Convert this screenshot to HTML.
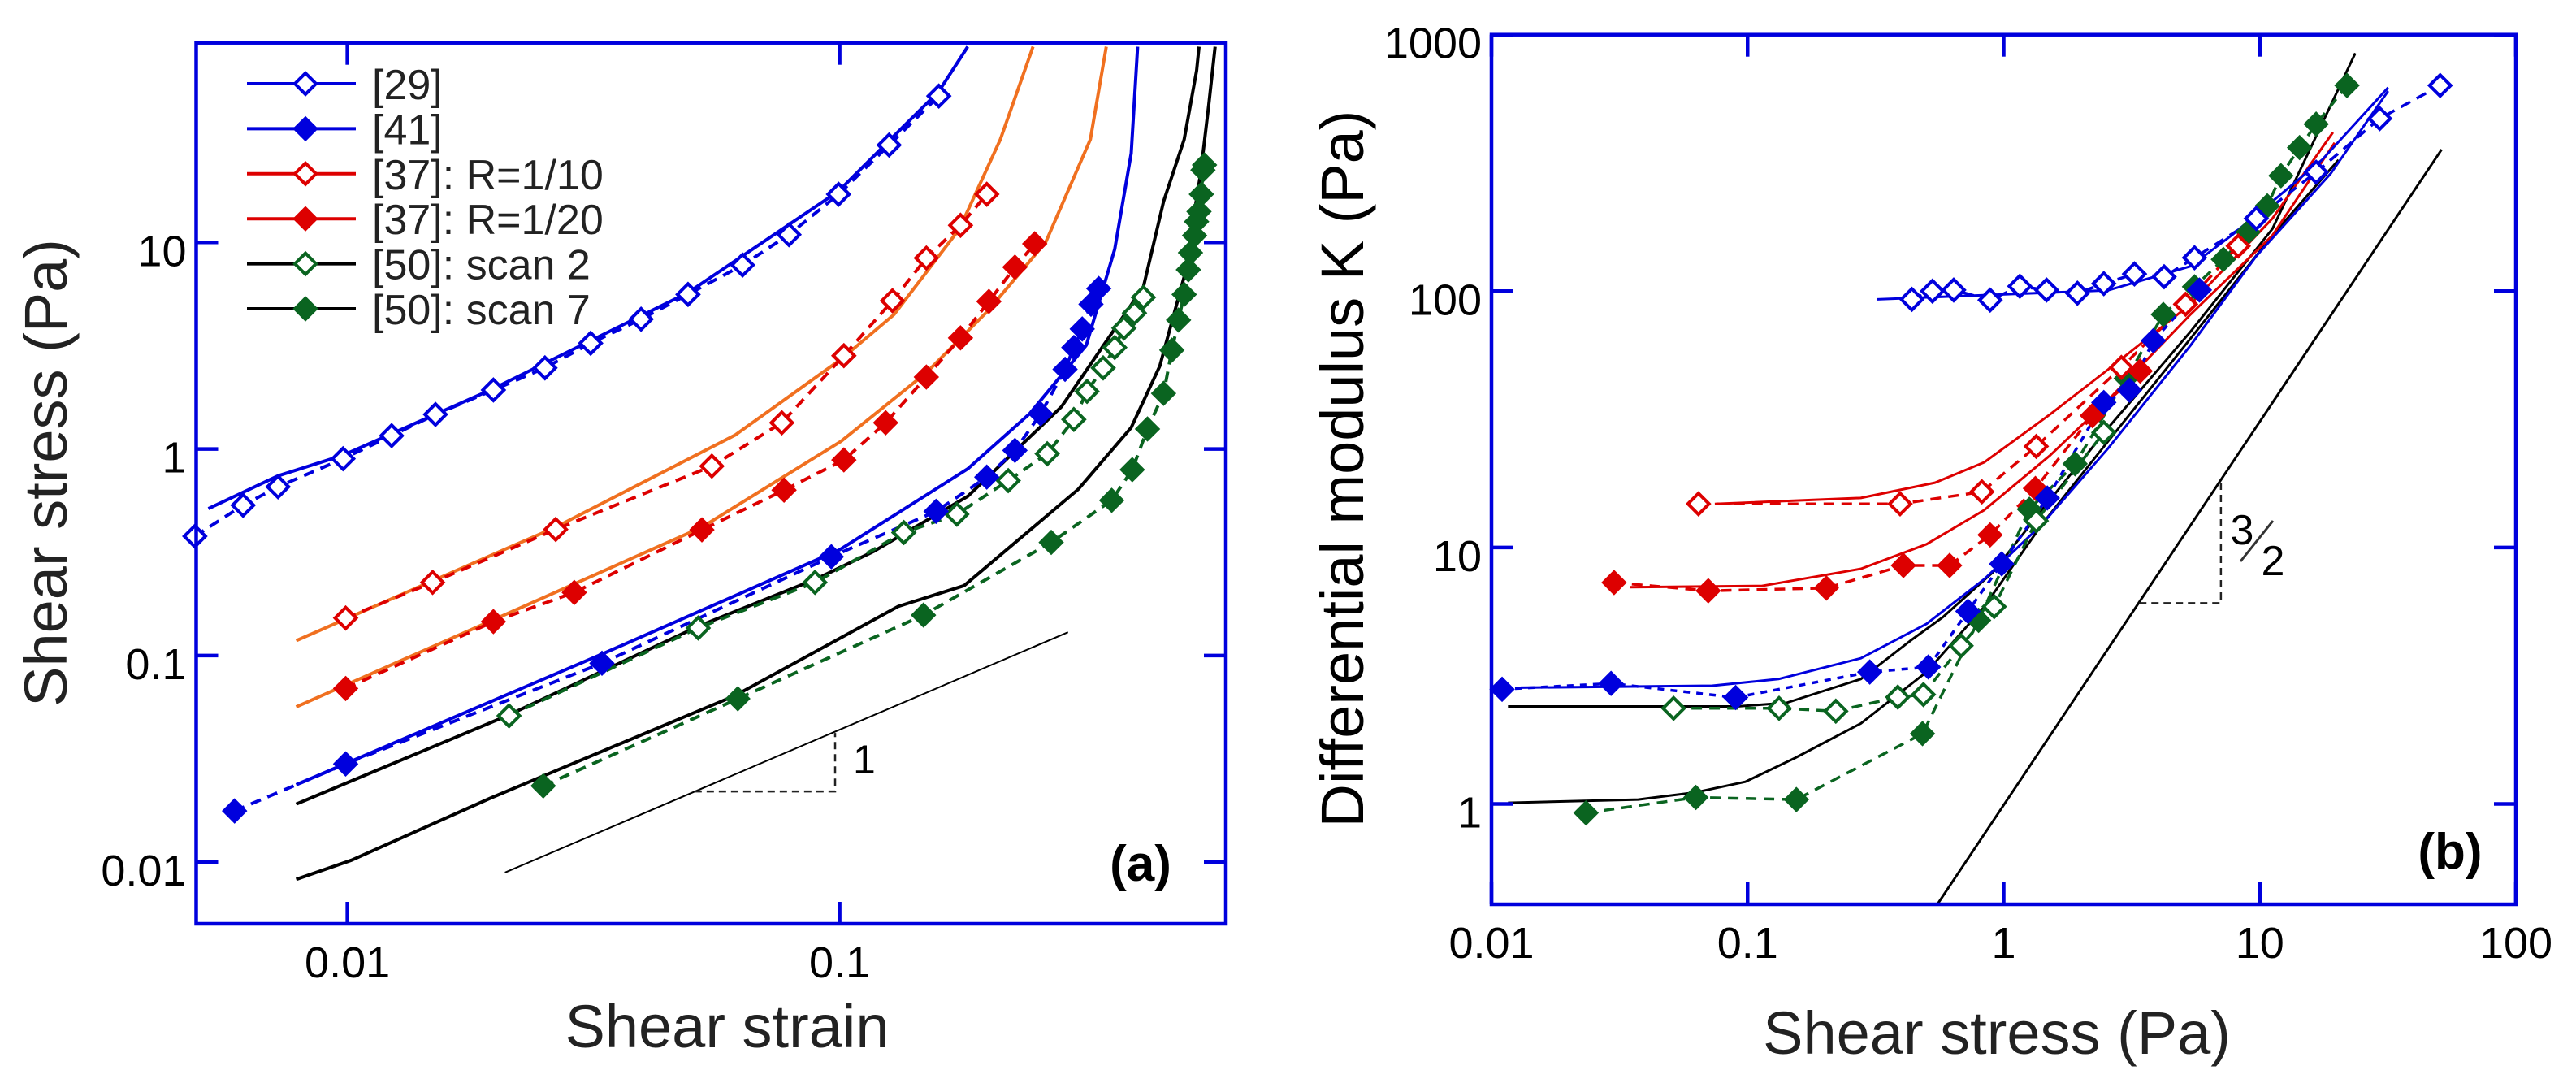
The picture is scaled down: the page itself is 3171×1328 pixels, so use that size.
<!DOCTYPE html>
<html><head><meta charset="utf-8"><style>
html,body{margin:0;padding:0;background:#fff;}
svg{display:block;font-family:"Liberation Sans",Arial,sans-serif;}
</style></head><body>
<svg id="fig" xmlns="http://www.w3.org/2000/svg" width="3171" height="1328" viewBox="0 0 3171 1328">
<defs>
<clipPath id="clipA"><rect x="241.5" y="52.7" width="1267.5" height="1084.3"/></clipPath>
<clipPath id="clipB"><rect x="1836" y="42.7" width="1261" height="1070.3"/></clipPath>
</defs>
<g id="panelA"></g>
<g id="panelB"></g>
</svg>
<script>
// ===== Panel (a) data: shear strain vs shear stress =====
const a29x=[0.0049,0.00614,0.00723,0.0098,0.0123,0.0151,0.0198,0.0252,0.0312,0.0395,0.0492,0.0635,0.0789,0.0995,0.126,0.159];
const a29y=[0.378,0.534,0.656,0.897,1.16,1.47,1.93,2.47,3.25,4.25,5.60,7.77,10.9,17.1,29.6,51.1];
const a29Lx=[0.00522,0.00723,0.0098,0.0198,0.0492,0.0995,0.131,0.159,0.182];
const a29Ly=[0.514,0.741,0.933,1.96,5.71,17.7,34.0,53.8,88.5];
const a41x=[0.0059,0.00992,0.0329,0.0962,0.157,0.199,0.227,0.256,0.287,0.299,0.311,0.324,0.336];
const a41y=[0.0177,0.0299,0.0918,0.301,0.499,0.731,0.984,1.48,2.43,3.10,3.81,5.02,5.98];
const a41Lx=[0.00787,0.0329,0.1,0.182,0.243,0.317,0.362,0.391,0.403];
const a41Ly=[0.0237,0.1016,0.325,0.801,1.48,3.18,9.27,27.0,88.5];
const a10x=[0.00992,0.0149,0.0265,0.0550,0.0763,0.102,0.128,0.150,0.176,0.199];
const a10y=[0.152,0.226,0.408,0.826,1.34,2.83,5.22,8.40,12.1,17.1];
const a10Lx=[0.00787,0.0149,0.0265,0.0614,0.1007,0.129,0.175,0.212,0.247];
const a10Ly=[0.118,0.230,0.418,1.17,2.72,4.48,11.6,31.5,88.5];
const a20x=[0.00992,0.0198,0.0289,0.0525,0.0771,0.102,0.124,0.150,0.176,0.201,0.227,0.249];
const a20y=[0.0693,0.146,0.202,0.406,0.632,0.885,1.34,2.23,3.45,5.18,7.59,9.85];
const a20Lx=[0.00787,0.00992,0.0198,0.0525,0.1007,0.150,0.200,0.262,0.323,0.348];
const a20Ly=[0.0564,0.0720,0.149,0.418,1.09,2.34,4.66,10,31.5,88.5];
const aS2x=[0.0213,0.0516,0.0891,0.135,0.173,0.220,0.264,0.299,0.318,0.343,0.362,0.378,0.397,0.414];
const aS2y=[0.0511,0.136,0.226,0.394,0.483,0.703,0.948,1.39,1.90,2.47,3.10,3.85,4.55,5.42];
const aS2Lx=[0.00787,0.0211,0.0516,0.090,0.1175,0.182,0.282,0.414,0.455,0.501,0.531,0.537];
const aS2Ly=[0.0191,0.0511,0.1385,0.236,0.320,0.590,1.60,6.08,15.8,31.5,67.8,88.5];
const aS7x=[0.0250,0.0621,0.148,0.269,0.357,0.393,0.422,0.455,0.473,0.488,0.501,0.511,0.516,0.526,0.531,0.537,0.543,0.547,0.551];
const aS7y=[0.0234,0.0618,0.157,0.353,0.564,0.794,1.25,1.86,3.01,4.21,5.60,7.37,8.91,10.8,12.6,14.1,17.1,22.4,23.7];
const aS7Lx=[0.00787,0.0102,0.0195,0.0614,0.1315,0.179,0.305,0.391,0.447,0.501,0.541,0.562,0.579];
const aS7Ly=[0.00826,0.01023,0.0204,0.0641,0.173,0.218,0.637,1.27,2.52,6.82,21.5,46.1,88.5];
const aSlopeX=[0.0209,0.291];
const aSlopeY=[0.00891,0.1297];
const aTicksX=[0.01,0.1];
const aTickLabelsX=["0.01","0.1"];
const aTicksY=[0.01,0.1,1,10];
const aTickLabelsY=["0.01","0.1","1","10"];

// ===== Panel (b) data: shear stress vs differential modulus =====
const b29x=[0.438,0.527,0.638,0.885,1.156,1.47,1.94,2.46,3.24,4.23,5.56,9.69,16.6,29.4,50.6];
const b29y=[92.9,100,101,92.3,104.5,101,98.2,107,116.7,113.8,135,192,291,471,634];
const b29Lx=[0.321,2.55,5.36,7.76,11.2,17.5,31.7];
const b29Ly=[92.9,100.7,125,165,224,325,622];
const b41x=[0.0110,0.0293,0.0898,0.300,0.508,0.725,0.982,1.48,2.46,3.10,3.84,5.81];
const b41y=[2.80,2.95,2.60,3.27,3.42,5.64,8.63,15.6,36.8,41.1,64.1,101];
const b41Lx=[0.0130,0.0728,0.132,0.277,0.500,0.840,1.41,2.55,5.36,9.69,18.9,31.7];
const b41Ly=[2.84,2.89,3.07,3.70,5.04,7.53,12.3,24.3,61.4,137,287,603];
const b10x=[0.0643,0.394,0.822,1.34,2.88,5.13,8.24];
const b10y=[14.8,14.8,16.5,24.8,50.4,88.9,150];
const b10Lx=[0.0745,0.277,0.539,0.840,1.52,2.55,5.36,11.2,19.3];
const b10Ly=[14.8,15.6,17.9,21.5,33.1,49.4,88.9,192,416];
const b20x=[0.0301,0.0702,0.203,0.406,0.615,0.885,1.33,2.22,3.41];
const b20y=[7.30,6.78,6.95,8.51,8.51,11.2,17.0,32.7,48.8];
const b20Lx=[0.0348,0.1135,0.277,0.500,0.840,1.52,2.55,5.36,11.2,19.6];
const b20Ly=[7.00,7.08,8.26,10.3,14.0,22.9,37.5,81.1,165,379];
const bS2x=[0.0514,0.1327,0.221,0.386,0.486,0.682,0.918,1.34,2.46];
const bS2y=[2.36,2.36,2.30,2.61,2.67,4.14,5.88,12.7,28.1];
const bS2Lx=[0.0116,0.0910,0.142,0.277,0.431,0.580,0.906,1.41,2.55,5.36,11.2,23.6];
const bS2Ly=[2.40,2.40,2.48,3.07,4.32,5.36,8.00,14.0,29.2,69.5,175,847];
const bS7x=[0.0234,0.0628,0.155,0.482,0.798,1.26,1.90,3.01,4.20,5.56,7.21,9.00,10.7,12.1,14.3,16.6,21.9];
const bS7y=[0.923,1.06,1.04,1.88,5.20,14.1,21.2,45.7,81.1,104,133,170,215,282,363,448,634];
const bS7Lx=[0.0116,0.0374,0.0628,0.098,0.153,0.277,0.500,0.840,1.41,2.55,5.36,11.2,20.3];
const bS7Ly=[1.01,1.04,1.11,1.22,1.51,2.06,3.27,5.88,12.3,25.9,65.3,165,325];
const bSlopeX=[0.551,51.3];
const bSlopeY=[0.406,357];
const bTicksX=[0.01,0.1,1,10,100];
const bTickLabelsX=["0.01","0.1","1","10","100"];
const bTicksY=[1,10,100,1000];
const bTickLabelsY=["1","10","100","1000"];

const NS="http://www.w3.org/2000/svg";
const L=Math.log10;
// axis functions
const axA={x:v=>427.6+606*(L(v)+2), y:v=>298.3+254.3*(1-L(v)), left:241.5,right:1509,top:52.7,bottom:1137};
const axB={x:v=>1836+315.25*(L(v)+2), y:v=>42.7+315.6*(3-L(v)), left:1836,right:3097,top:42.7,bottom:1113};

function mk(parent,tag,attrs){const e=document.createElementNS(NS,tag);for(const k in attrs)e.setAttribute(k,attrs[k]);parent.appendChild(e);return e;}

function line(g,ax,xs,ys,color,dash,width,clip,name){
  const d=xs.map((v,i)=>(i?'L':'M')+ax.x(v).toFixed(1)+' '+ax.y(ys[i]).toFixed(1)).join(' ');
  const p=mk(g,'path',{d:d,fill:'none',stroke:color,'stroke-width':width,'stroke-linejoin':'round'});
  if(dash)p.setAttribute('stroke-dasharray',dash);
  if(clip)p.setAttribute('clip-path','url(#'+clip+')');
  
  
  return p;
}
function diamond(g,cx,cy,color,filled,name){
  const r=filled?15:13;
  const p=mk(g,'path',{d:`M${cx} ${cy-r} L${cx+r} ${cy} L${cx} ${cy+r} L${cx-r} ${cy} Z`,fill:filled?color:'#fff',stroke:color,'stroke-width':filled?1:4});
  
  
}
function markers(g,ax,xs,ys,color,filled,name){
  xs.forEach((v,i)=>diamond(g,ax.x(v),ax.y(ys[i]),color,filled,name));
}
function text(g,x,y,s,size,anchor,name,extra){
  const t=mk(g,'text',Object.assign({x:x,y:y,'font-size':size,'text-anchor':anchor,fill:'#000'},extra||{}));
  t.textContent=s;
  
  
  return t;
}
function frame(g,ax,tx,ty,txl,tyl,name){
  const f=mk(g,'rect',{x:ax.left,y:ax.top,width:ax.right-ax.left,height:ax.bottom-ax.top,fill:'none',stroke:'#0000dd','stroke-width':4.5});
  
  
  tx.forEach((v,i)=>{const X=ax.x(v);
    const t1=mk(g,'line',{x1:X,y1:ax.bottom,x2:X,y2:ax.bottom-27,stroke:'#0000dd','stroke-width':4.5});
    
    
    const t2=mk(g,'line',{x1:X,y1:ax.top,x2:X,y2:ax.top+27,stroke:'#0000dd','stroke-width':4.5});
    
    
    text(g,X,ax.bottom+66,txl[i],54,'middle','x-tick-label');
  });
  ty.forEach((v,i)=>{const Y=ax.y(v);
    const t1=mk(g,'line',{x1:ax.left,y1:Y,x2:ax.left+27,y2:Y,stroke:'#0000dd','stroke-width':4.5});
    
    
    const t2=mk(g,'line',{x1:ax.right,y1:Y,x2:ax.right-27,y2:Y,stroke:'#0000dd','stroke-width':4.5});
    
    
    text(g,ax.left-12,Y+29,tyl[i],54,'end','y-tick-label');
  });
}

const BLUE='#0000dd',RED='#dd0000',ORANGE='#f07020',GREEN='#0a6420',BLACK='#000';
const DASH='13 9',DOT='8 8';

// ---- Panel A ----
const gA=document.getElementById('panelA');
line(gA,axA,aSlopeX,aSlopeY,BLACK,null,2,'clipA','slope-one-line');
const tri=mk(gA,'path',{d:`M${axA.x(0.0507)} ${axA.y(0.022)} L${axA.x(0.0979)} ${axA.y(0.022)} L${axA.x(0.0979)} ${axA.y(0.0422)}`,fill:'none',stroke:'#222','stroke-width':2.5,'stroke-dasharray':'9 6'});


text(gA,axA.x(0.0979)+22,axA.y(0.022)-22,'1',50,'start','slope-label');
line(gA,axA,aS7Lx,aS7Ly,BLACK,null,4,'clipA','line-scan7-model');
line(gA,axA,aS2Lx,aS2Ly,BLACK,null,4,'clipA','line-scan2-model');
line(gA,axA,a20Lx,a20Ly,ORANGE,null,4,'clipA','line-r20-model');
line(gA,axA,a10Lx,a10Ly,ORANGE,null,4,'clipA','line-r10-model');
line(gA,axA,a41Lx,a41Ly,BLUE,null,4,'clipA','line-41-model');
line(gA,axA,a29Lx,a29Ly,BLUE,null,4,'clipA','line-29-model');
line(gA,axA,aS7x,aS7y,GREEN,DASH,4,'clipA','line-scan7-data');
line(gA,axA,aS2x,aS2y,GREEN,DASH,4,'clipA','line-scan2-data');
line(gA,axA,a20x,a20y,RED,DASH,4,'clipA','line-r20-data');
line(gA,axA,a10x,a10y,RED,DASH,4,'clipA','line-r10-data');
line(gA,axA,a41x,a41y,BLUE,DASH,4,'clipA','line-41-data');
line(gA,axA,a29x,a29y,BLUE,DASH,4,'clipA','line-29-data');
markers(gA,axA,aS7x,aS7y,GREEN,true,'marker-scan7');
markers(gA,axA,aS2x,aS2y,GREEN,false,'marker-scan2');
markers(gA,axA,a20x,a20y,RED,true,'marker-r20');
markers(gA,axA,a10x,a10y,RED,false,'marker-r10');
markers(gA,axA,a41x,a41y,BLUE,true,'marker-41');
markers(gA,axA,a29x,a29y,BLUE,false,'marker-29');
frame(gA,axA,aTicksX,aTicksY,aTickLabelsX,aTickLabelsY,'panel-a');
text(gA,895,1289,'Shear strain',74,'middle','x-axis-title-a',{fill:'#222'});
text(gA,0,0,'Shear stress (Pa)',74,'middle','y-axis-title-a',{fill:'#222',transform:'translate(82 582) rotate(-90)'});
text(gA,1404,1084,'(a)',62,'middle','panel-label-a',{'font-weight':'bold'});
// legend
const legendLabels=['[29]','[41]','[37]: R=1/10','[37]: R=1/20','[50]: scan 2','[50]: scan 7'];
const legendLine=[BLUE,BLUE,RED,RED,BLACK,BLACK];
const legendMark=[BLUE,BLUE,RED,RED,GREEN,GREEN];
const legendFill=[false,true,false,true,false,true];
const gL=mk(gA,'g',{});


legendLabels.forEach((s,i)=>{
  const y=103+i*55.4;
  const ln=mk(gL,'line',{x1:304,y1:y,x2:438,y2:y,stroke:legendLine[i],'stroke-width':4});
  
  
  diamond(gL,376,y,legendMark[i],legendFill[i],'legend-marker');
  text(gL,458,y+19,s,52,'start','legend-entry',{fill:'#222'});
});

// ---- Panel B ----
const gB=document.getElementById('panelB');
line(gB,axB,bSlopeX,bSlopeY,BLACK,null,3,'clipB','slope-three-halves-line');
const tri2=mk(gB,'path',{d:`M${axB.x(3.38)} ${axB.y(6.07)} L${axB.x(7.05)} ${axB.y(6.07)} L${axB.x(7.05)} ${axB.y(17.9)}`,fill:'none',stroke:'#222','stroke-width':2.5,'stroke-dasharray':'9 6'});


text(gB,2760,670,'3',52,'middle','slope-numerator');
const sl=mk(gB,'line',{x1:2758,y1:691,x2:2798,y2:641,stroke:'#333','stroke-width':3});


text(gB,2798,708,'2',52,'middle','slope-denominator');
line(gB,axB,bS7Lx,bS7Ly,BLACK,null,3,'clipB','line-scan7-model-b');
line(gB,axB,bS2Lx,bS2Ly,BLACK,null,3,'clipB','line-scan2-model-b');
line(gB,axB,b20Lx,b20Ly,RED,null,3,'clipB','line-r20-model-b');
line(gB,axB,b10Lx,b10Ly,RED,null,3,'clipB','line-r10-model-b');
line(gB,axB,b41Lx,b41Ly,BLUE,null,3,'clipB','line-41-model-b');
line(gB,axB,b29Lx,b29Ly,BLUE,null,3,'clipB','line-29-model-b');
line(gB,axB,bS7x,bS7y,GREEN,DASH,3.5,'clipB','line-scan7-data-b');
line(gB,axB,bS2x,bS2y,GREEN,DASH,3.5,'clipB','line-scan2-data-b');
line(gB,axB,b20x,b20y,RED,DASH,3.5,'clipB','line-r20-data-b');
line(gB,axB,b10x,b10y,RED,DASH,3.5,'clipB','line-r10-data-b');
line(gB,axB,b41x,b41y,BLUE,DOT,3.5,'clipB','line-41-data-b');
line(gB,axB,b29x,b29y,BLUE,DASH,3.5,null,'line-29-data-b');
markers(gB,axB,bS7x,bS7y,GREEN,true,'marker-scan7-b');
markers(gB,axB,bS2x,bS2y,GREEN,false,'marker-scan2-b');
markers(gB,axB,b20x,b20y,RED,true,'marker-r20-b');
markers(gB,axB,b10x,b10y,RED,false,'marker-r10-b');
markers(gB,axB,b41x,b41y,BLUE,true,'marker-41-b');
markers(gB,axB,b29x,b29y,BLUE,false,'marker-29-b');
frame(gB,axB,bTicksX,bTicksY,bTickLabelsX,bTickLabelsY,'panel-b');
text(gB,2458,1297,'Shear stress (Pa)',74,'middle','x-axis-title-b',{fill:'#222'});
text(gB,0,0,'Differential modulus K (Pa)',74,'middle','y-axis-title-b',{fill:'#000',transform:'translate(1678 577) rotate(-90)'});
text(gB,3016,1069,'(b)',62,'middle','panel-label-b',{'font-weight':'bold'});
</script>
</body></html>
